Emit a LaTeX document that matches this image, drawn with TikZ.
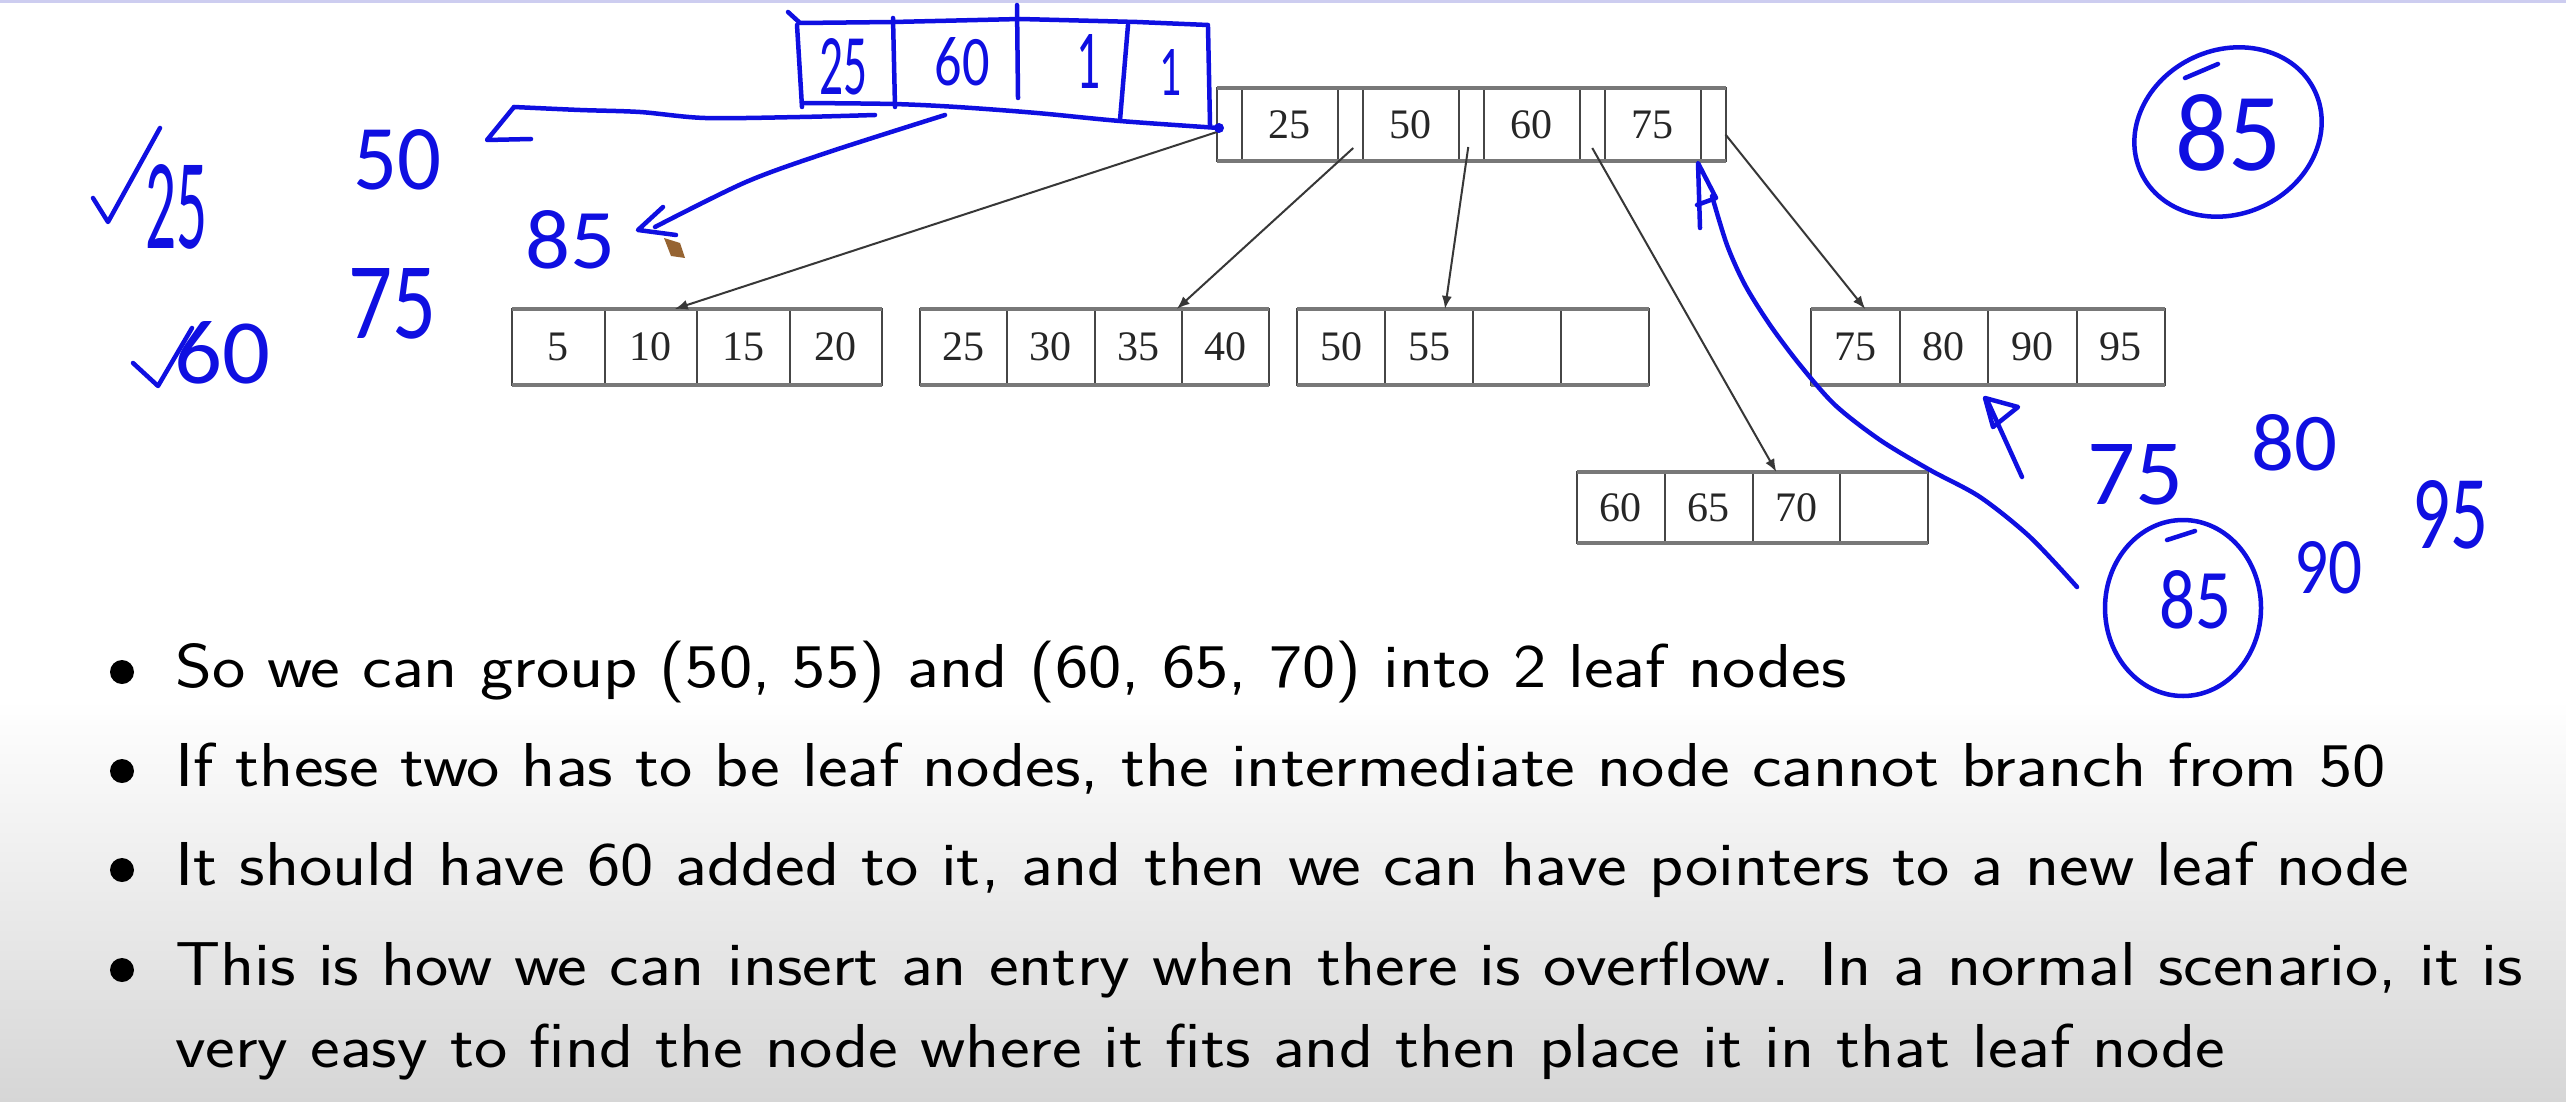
\documentclass[tikz,border=0pt]{standalone}
\usepackage{fontspec}
\usepackage{graphicx}
\usetikzlibrary{arrows.meta,calc}
\newfontfamily\numfont{Liberation Serif}
\newfontfamily\hwfont{Carlito}
\definecolor{hblue}{RGB}{15,15,225}
\definecolor{boxline}{RGB}{70,70,70}
\definecolor{boxedge}{RGB}{120,120,120}
\definecolor{arrowc}{RGB}{55,55,55}
\definecolor{bggray}{RGB}{214,214,214}
\definecolor{topline}{RGB}{205,205,240}
\definecolor{cursorc}{RGB}{150,100,50}
\newcommand\hwtext[3]{\resizebox{#1pt}{#2pt}{\fontsize{\fpeval{round(#2/0.632,1)}}{\fpeval{round(#2/0.632*1.2,1)}}\hwfont #3}}
\begin{document}
\begin{tikzpicture}[x=1pt,y=-1pt,
  cell/.style={draw=boxline, line width=2pt, inner sep=0, outer sep=0, text=black!85,
    font=\numfont\fontsize{42}{50}\selectfont},
  edge/.style={draw=boxedge, line width=4.5pt},
  ptr/.style={draw=arrowc, line width=2pt, -{Latex[length=13pt,width=10pt]}},
  hwn/.style={text=hblue, inner sep=0},
  ink/.style={draw=hblue, line width=4.5pt, line cap=round, line join=round},
  bul/.style={circle, fill=black, inner sep=0, minimum size=24pt},
  btext/.style={anchor=base west, inner sep=0, font=\sffamily\fontsize{62}{74}\selectfont}]
\useasboundingbox (0,0) rectangle (2566,1102);
\fill[white] (0,0) rectangle (2566,1102);
\shade[top color=white, bottom color=bggray] (0,700) rectangle (2566,1102);
\fill[topline] (0,0) rectangle (2566,3);

% ---------- root node ----------
\foreach \i in {0,...,4}
  \node[cell, minimum width=24.5pt, minimum height=73pt] (rp\i) at ({1217+121*\i+12.25},124.5) {};
\foreach \j/\v in {1/25,2/50,3/60,4/75}
  \node[cell, minimum width=96.5pt, minimum height=73pt] (rk\j) at ({1217+24.5+121*(\j-1)+48.25},124.5) {\v};
\draw[edge] (rp0.north west) -- (rp4.north east);
\draw[edge] (rp0.south west) -- (rp4.south east);

% ---------- leaves ----------
\foreach \i/\v in {1/5,2/10,3/15,4/20}
  \node[cell, minimum width=92.5pt, minimum height=76pt] (l1c\i) at ({512+92.5*(\i-0.5)},347) {\v};
\foreach \i/\v in {1/25,2/30,3/35,4/40}
  \node[cell, minimum width=87.25pt, minimum height=76pt] (l2c\i) at ({920+87.25*(\i-0.5)},347) {\v};
\foreach \i/\v in {1/50,2/55,3/{},4/{}}
  \node[cell, minimum width=88pt, minimum height=76pt] (l3c\i) at ({1297+88*(\i-0.5)},347) {\v};
\foreach \i/\v in {1/75,2/80,3/90,4/95}
  \node[cell, minimum width=88.5pt, minimum height=76pt] (l4c\i) at ({1811+88.5*(\i-0.5)},347) {\v};
\foreach \i/\v in {1/60,2/65,3/70,4/{}}
  \node[cell, minimum width=87.75pt, minimum height=71pt] (l5c\i) at ({1577+87.75*(\i-0.5)},507.5) {\v};
\foreach \l in {l1,l2,l3,l4,l5} {
  \draw[edge] (\l c1.north west) -- (\l c4.north east);
  \draw[edge] (\l c1.south west) -- (\l c4.south east);
}

% ---------- pointers ----------
\draw[ptr] ($(rp0.west)+(3,6.5)$) -- ($(l1c2.north)+(24,0)$);
\draw[ptr] ($(rp1.south)+(3,-13)$) -- ($(l2c3.north east)+(-5,0)$);
\draw[ptr] ($(rp2.south)+(-3,-14)$) -- ($(l3c2.north)+(16,0)$);
\draw[ptr] ($(rp3.south)+(0,-13)$) -- ($(l5c3.north)+(-20,0)$);
\draw[ptr] ($(rp4.east)+(0,10)$) -- ($(l4c1.north)+(10,0)$);

% ---------- handwritten box ----------
\draw[ink] (788,12) -- (800,23) -- (893,22) -- (1020,19) -- (1137,22) -- (1208,25);
\draw[ink] (797,25) -- (802,107);
\draw[ink] (893,18) -- (895,107);
\draw[ink] (1017,5) -- (1018,98);
\draw[ink] (1128,25) -- (1120,120);
\draw[ink] (1208,27) -- (1210,125);
\draw[ink] plot[smooth] coordinates {(802,103) (893,104) (957,107) (1037,113) (1120,121) (1219,128)};
\fill[hblue] (1219,128) circle (5pt);
\node[hwn] (h25a) at (843,67) {\hwtext{48}{56}{25}};
\node[hwn] (h60a) at (962,62) {\hwtext{55}{48}{60}};
\node[hwn] (hnulla) at (1088,62) {\hwtext{24}{54}{1}};
\node[hwn] (hnullb) at (1170,72) {\hwtext{22}{46}{1}};

% arrow to 50
\draw[ink] plot[smooth] coordinates {(875,115) (800,117) (705,118) (640,112) (580,110) (514,107)};
\draw[ink] (514,107) -- (487,140) -- (531,139);
% arrow to 85
\draw[ink] plot[smooth] coordinates {(945,115) (829,152) (746,182) (655,227)};
\draw[ink] (663,207) -- (638,230) -- (676,235);
\fill[cursorc] (664,238) -- (680,243) -- (685,258) -- (671,256) -- cycle;

% left notes
\draw[ink] (93,198) -- (108,222) -- (160,128);
\node[hwn] (h25b) at (176,207) {\hwtext{62}{84}{25}};
\node[hwn] (h50) at (397,160) {\hwtext{88}{60}{50}};
\node[hwn] (h85a) at (570,240) {\hwtext{90}{58}{85}};
\node[hwn] (h75a) at (392,304) {\hwtext{88}{70}{75}};
\draw[ink] (133,363) -- (158,386) -- (192,328);
\node[hwn] (h60b) at (222,353) {\hwtext{96}{62}{60}};

% top-right circled 85
\draw[ink] (2228,132) circle [x radius=96pt, y radius=82pt, rotate=25];
\draw[ink] (2185,78) -- (2218,64);
\node[hwn] (h85b) at (2228,133) {\hwtext{106}{76}{85}};

% long curve with arrowhead up to the last pointer
\draw[ink] (1700,228) -- (1698,163) -- (1716,198) -- (1697,205);
\draw[ink] plot[smooth] coordinates {(1712,196) (1727,245) (1745,285) (1770,325) (1800,365) (1835,405) (1880,440) (1930,470) (1980,497) (2030,537) (2077,587)};

% small arrow below leaf
\draw[ink] (2022,477) -- (1988,402);
\draw[ink] (1985,398) -- (2018,407) -- (1993,427) -- cycle;

% lower-right notes
\node[hwn] (h75b) at (2135,475) {\hwtext{96}{60}{75}};
\node[hwn] (h80) at (2294,443) {\hwtext{86}{56}{80}};
\draw[ink] (2183,608) circle [x radius=78pt, y radius=88pt];
\draw[ink] (2167,540) -- (2195,531);
\node[hwn] (h85c) at (2195,600) {\hwtext{72}{58}{85}};
\node[hwn] (h90) at (2328,568) {\hwtext{68}{52}{90}};
\node[hwn] (h95) at (2450,515) {\hwtext{76}{68}{95}};

% ---------- bullets ----------
\node[bul] (b1) at (122,672) {};
\node[bul] (b2) at (122,771) {};
\node[bul] (b3) at (122,870) {};
\node[bul] (b4) at (122,970) {};
\node[btext] (t1) at (175,687) {\scalebox{1.14}[1]{So we can group (50, 55) and (60, 65, 70) into 2 leaf nodes}};
\node[btext] (t2) at (175,786) {\scalebox{1.14}[1]{If these two has to be leaf nodes, the intermediate node cannot branch from 50}};
\node[btext] (t3) at (175,885) {\scalebox{1.14}[1]{It should have 60 added to it, and then we can have pointers to a new leaf node}};
\node[btext] (t4) at (175,985) {\scalebox{1.14}[1]{This is how we can insert an entry when there is overflow. In a normal scenario, it is}};
\node[btext] (t5) at (175,1067) {\scalebox{1.14}[1]{very easy to find the node where it fits and then place it in that leaf node}};
\end{tikzpicture}
\end{document}
